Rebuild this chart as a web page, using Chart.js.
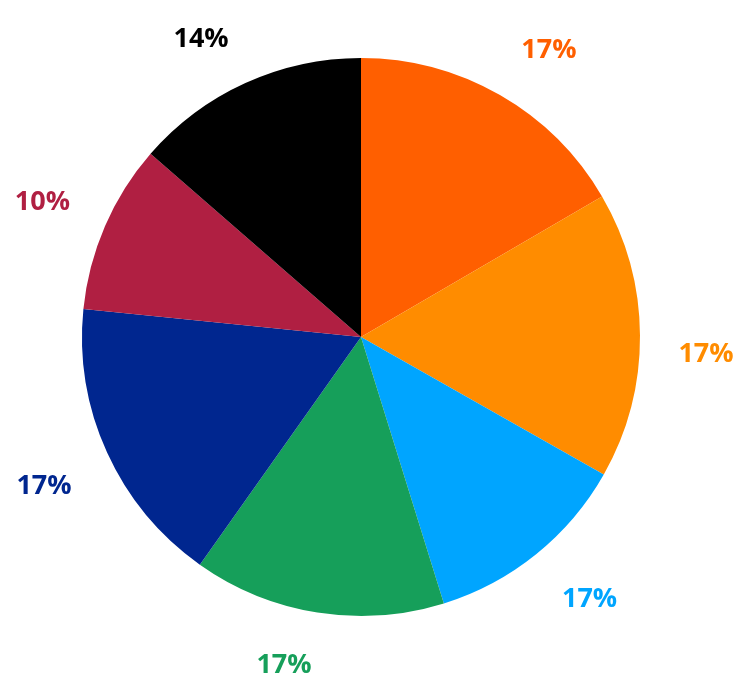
<!DOCTYPE html>
<html>
<head>
<meta charset="utf-8">
<script src="https://cdn.jsdelivr.net/npm/chart.js@4"></script>
<style>
  html, body { margin: 0; padding: 0; background: #ffffff; }
  #wrap { width: 744px; height: 684px; }
</style>
</head>
<body>
<div id="wrap"><canvas id="pieChart" width="744" height="684"></canvas></div>
<script>
// slice sizes (percent of the circle)
const sliceValues = [16.6, 16.6, 12.0, 14.6, 16.8, 9.8, 13.6];
// label text printed next to each slice
const sliceLabels = ['17%', '17%', '17%', '17%', '17%', '10%', '14%'];
const sliceColors = ['#ff5f00', '#ff8c00', '#00a5ff', '#169f5a', '#00268f', '#b01f42', '#000000'];
// small hand nudges so the labels sit where the original put them
const labelNudge = [[16, 12], [0, 19], [12, -6], [-23, -12], [-3, 6], [-2, 2], [-17, 16]];

// draws each percentage outside its slice, in the slice colour
const outerLabels = {
    id: 'outerLabels',
    afterDatasetsDraw(chart) {
        const ctx = chart.ctx;
        const meta = chart.getDatasetMeta(0);
        ctx.save();
        ctx.font = 'bold 27px "Open Sans", sans-serif';
        ctx.textAlign = 'center';
        ctx.textBaseline = 'middle';
        meta.data.forEach((arc, i) => {
            const p = arc.getProps(['x', 'y', 'startAngle', 'endAngle', 'outerRadius'], true);
            const mid = (p.startAngle + p.endAngle) / 2;
            const r = p.outerRadius + 66;
            ctx.fillStyle = sliceColors[i];
            ctx.fillText(sliceLabels[i],
                p.x + Math.cos(mid) * r + labelNudge[i][0],
                p.y + Math.sin(mid) * r + labelNudge[i][1]);
        });
        ctx.restore();
    }
};

const ctx = document.getElementById('pieChart').getContext('2d');
new Chart(ctx, {
    type: 'pie',
    data: {
        labels: sliceLabels,
        datasets: [{
            data: sliceValues,
            backgroundColor: sliceColors,
            borderWidth: 0
        }]
    },
    options: {
        responsive: false,
        animation: false,
        layout: { padding: { left: 82, right: 104, top: 58, bottom: 68 } },
        plugins: {
            legend: { display: false },
            tooltip: { enabled: false }
        }
    },
    plugins: [outerLabels]
});
</script>
</body>
</html>
